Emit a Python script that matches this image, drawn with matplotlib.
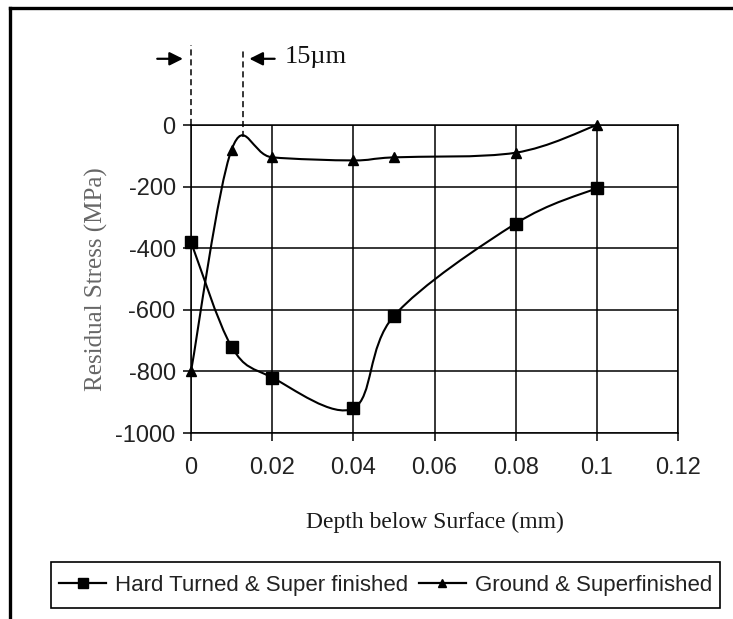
import numpy as np
import matplotlib
matplotlib.use("Agg")
import matplotlib.pyplot as plt
from matplotlib.path import Path
from matplotlib.patches import PathPatch, Rectangle
from matplotlib.lines import Line2D

# ---- data ----
depth_hard = [0.0, 0.01, 0.02, 0.04, 0.05, 0.08, 0.10]
stress_hard = [-380, -720, -820, -920, -620, -320, -205]
depth_ground = [0.0, 0.01, 0.02, 0.04, 0.05, 0.08, 0.10]
stress_ground = [-800, -80, -105, -115, -105, -90, 0]
series_names = ["Hard Turned & Super finished", "Ground & Superfinished"]
x_ticks = [0, 0.02, 0.04, 0.06, 0.08, 0.10, 0.12]
x_tick_labels = ["0", "0.02", "0.04", "0.06", "0.08", "0.1", "0.12"]
y_ticks = [0, -200, -400, -600, -800, -1000]
y_tick_labels = ["0", "-200", "-400", "-600", "-800", "-1000"]
marker_depth = 0.0128  # second dashed line location
annotation_text = "15\u00b5m"

W, H = 733, 619
fig = plt.figure(figsize=(W / 100, H / 100), dpi=100)
ax = fig.add_axes([191 / W, 1 - 433 / H, 487 / W, 308 / H])
ax.set_xlim(0, 0.12)
ax.set_ylim(-1000, 0)


def smooth_path(xs, ys):
    """Excel-like smoothed curve (Catmull-Rom Bezier)."""
    P = np.column_stack([xs, ys]).astype(float)
    n = len(P)
    verts = [P[0]]
    codes = [Path.MOVETO]
    for i in range(n - 1):
        p0 = P[i - 1] if i > 0 else P[i]
        p1 = P[i]
        p2 = P[i + 1]
        p3 = P[i + 2] if i + 2 < n else P[i + 1]
        c1 = p1 + (p2 - p0) / 6.0
        c2 = p2 - (p3 - p1) / 6.0
        verts += [c1, c2, p2]
        codes += [Path.CURVE4] * 3
    return Path(verts, codes)


for xs, ys, mk, ms in [(depth_hard, stress_hard, "s", 8),
                       (depth_ground, stress_ground, "^", 6.5)]:
    patch = PathPatch(smooth_path(xs, ys), facecolor="none", edgecolor="black",
                      lw=1.5, zorder=3, clip_on=False)
    ax.add_patch(patch)
    ax.plot(xs, ys, linestyle="none", marker=mk, markersize=ms, color="black",
            zorder=4, clip_on=False)

# grid, ticks
ax.set_xticks(x_ticks)
ax.set_xticklabels(x_tick_labels)
ax.set_yticks(y_ticks)
ax.set_yticklabels(y_tick_labels)
ax.grid(True, color="black", linewidth=1.1)
ax.set_axisbelow(True)
for s in ax.spines.values():
    s.set_linewidth(1.1)
    s.set_color("black")
ax.tick_params(axis="both", direction="out", length=6, width=1.1, color="black",
               labelcolor="#222222", labelsize=17)
ax.tick_params(axis="x", pad=11)
ax.tick_params(axis="y", pad=5)
for lab in ax.get_xticklabels() + ax.get_yticklabels():
    lab.set_family("Liberation Sans")

ax.set_xlabel("Depth below Surface (mm)", family="Liberation Serif", fontsize=17,
              color="#1a1a1a", labelpad=24)
ax.set_ylabel("Residual Stress (MPa)", family="Liberation Serif", fontsize=18,
              color="#666666", labelpad=5.5)

# dashed guide lines and 15 um annotation
ax.plot([0, 0], [0, 260], ls=(0, (4, 2.5)), color="black", lw=1.1, clip_on=False)
ax.plot([marker_depth, marker_depth], [-40, 240], ls=(0, (4, 2.5)), color="black",
        lw=1.1, clip_on=False)
ax.annotate("", xy=(-0.0013, 215), xytext=(-0.009, 215),
            arrowprops=dict(arrowstyle="-|>", color="black", lw=1.6,
                            mutation_scale=20), annotation_clip=False)
ax.annotate("", xy=(marker_depth + 0.0009, 215), xytext=(marker_depth + 0.0085, 215),
            arrowprops=dict(arrowstyle="-|>", color="black", lw=1.6,
                            mutation_scale=20), annotation_clip=False)
ax.text(marker_depth + 0.0102, 222, annotation_text, family="Liberation Serif",
        fontsize=19, va="center", ha="left", color="#111111")

# legend
handles = [Line2D([], [], color="black", lw=1.6, marker="s", markersize=7),
           Line2D([], [], color="black", lw=1.6, marker="^", markersize=5.5)]
leg = fig.legend(handles, series_names, loc="center",
                 bbox_to_anchor=((51 + 720) / 2 / W, 1 - 585 / H), ncol=2,
                 frameon=False,
                 prop={"family": "Liberation Sans", "size": 16},
                 handlelength=2.1, handletextpad=0.4, columnspacing=0.5,
                 borderpad=0.0, borderaxespad=0)
for t in leg.get_texts():
    t.set_color("#222222")
fig.add_artist(Rectangle((51 / W, 1 - 608 / H), (720 - 51) / W, 46 / H,
                         transform=fig.transFigure, facecolor="none",
                         edgecolor="black", lw=1.2))

# figure border (left and top)
fig.add_artist(Line2D([10 / W, 10 / W], [0, 1 - 8 / H], color="black", lw=2.4,
                      transform=fig.transFigure))
fig.add_artist(Line2D([10 / W, 1], [1 - 8 / H, 1 - 8 / H], color="black", lw=2.4,
                      transform=fig.transFigure))

fig.savefig("out.png", dpi=100)
